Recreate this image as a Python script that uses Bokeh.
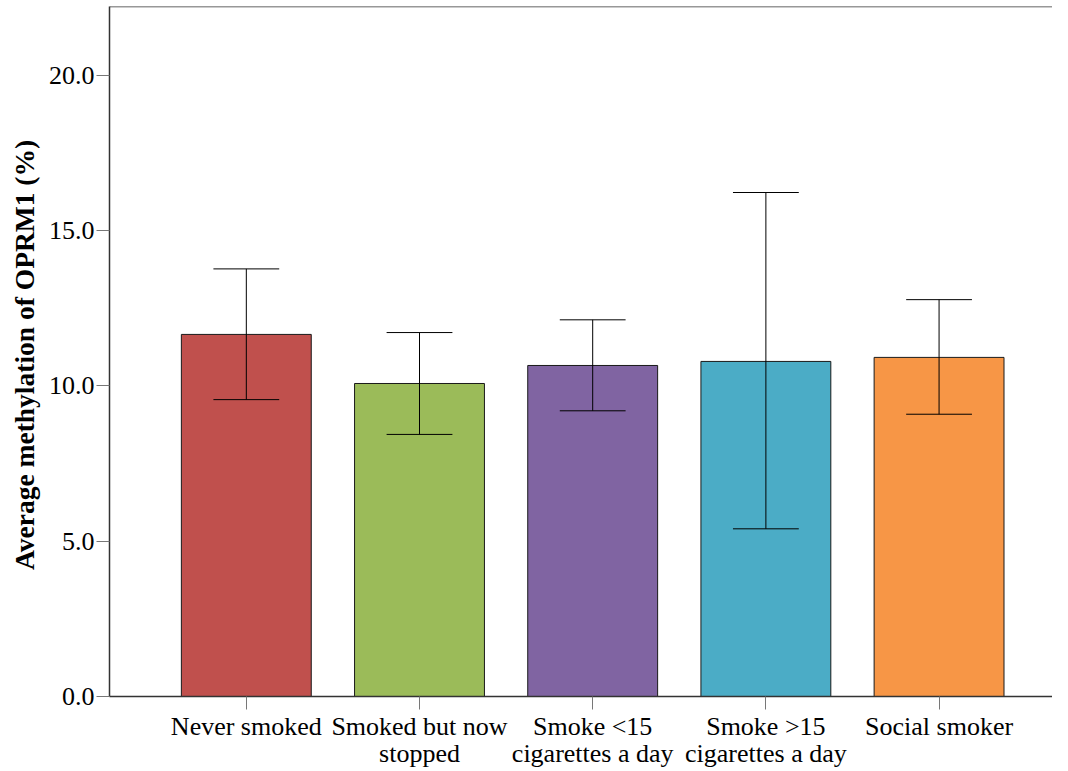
from bokeh.plotting import figure
from bokeh.models import Range1d, FixedTicker, PrintfTickFormatter, Span, ColumnDataSource
from bokeh.embed import file_html
from bokeh.resources import INLINE

categories = ["Never smoked", "Smoked but now\nstopped", "Smoke <15\ncigarettes a day",
              "Smoke >15\ncigarettes a day", "Social smoker"]
means = [11.66, 10.08, 10.66, 10.79, 10.92]
err_low = [9.56, 8.44, 9.20, 5.40, 9.09]
err_high = [13.77, 11.72, 12.13, 16.23, 12.78]
colors = ["#C0504D", "#9BBB59", "#8064A2", "#4BACC6", "#F79646"]
y_ticks = [0, 5, 10, 15, 20]

xs = list(range(len(categories)))
src = ColumnDataSource(dict(x=xs, top=means, lo=err_low, hi=err_high, color=colors,
                            cl=[x - 0.19 for x in xs], cr=[x + 0.19 for x in xs]))

p = figure(width=1052, height=771, output_backend="svg", toolbar_location=None,
           x_range=Range1d(-0.79, 4.655), y_range=Range1d(0, 22.22),
           min_border_left=109, min_border_right=0, min_border_top=6, min_border_bottom=75)
p.outline_line_color = None
p.xgrid.visible = False
p.ygrid.visible = False

p.vbar(x="x", top="top", width=0.75, bottom=0, fill_color="color", line_color="#1a1a1a",
       line_width=1, source=src)
p.segment(x0="x", x1="x", y0="lo", y1="hi", line_color="black", line_width=1, source=src)
p.segment(x0="cl", x1="cr", y0="lo", y1="lo", line_color="black", line_width=1, source=src)
p.segment(x0="cl", x1="cr", y0="hi", y1="hi", line_color="black", line_width=1, source=src)

p.add_layout(Span(location=22.22, dimension="width", line_color="#333333", line_width=1.5))

font = "Liberation Serif"
p.xaxis.ticker = FixedTicker(ticks=xs)
p.xaxis.major_label_overrides = {i: c for i, c in enumerate(categories)}
p.yaxis.ticker = FixedTicker(ticks=y_ticks)
p.yaxis.formatter = PrintfTickFormatter(format="%.1f")
for ax in (p.xaxis, p.yaxis):
    ax.major_label_text_font = font
    ax.major_label_text_font_size = "26px"
    ax.major_label_text_color = "black"
    ax.major_label_text_line_height = 0.95
    ax.major_tick_in = 0
    ax.major_tick_out = 13
    ax.major_tick_line_color = "#777777"
    ax.minor_tick_line_color = None
    ax.axis_line_color = "#333333"
    ax.axis_line_width = 1.5
p.xaxis.major_label_standoff = 2
p.yaxis.major_label_standoff = 2
p.yaxis.axis_label = "Average  methylation of OPRM1 (%)"
p.yaxis.axis_label_text_font = font
p.yaxis.axis_label_text_font_style = "bold"
p.yaxis.axis_label_text_font_size = "27.5px"
p.yaxis.axis_label_text_color = "black"
p.yaxis.axis_label_standoff = 6

open("out.html", "w").write(file_html(p, INLINE))
